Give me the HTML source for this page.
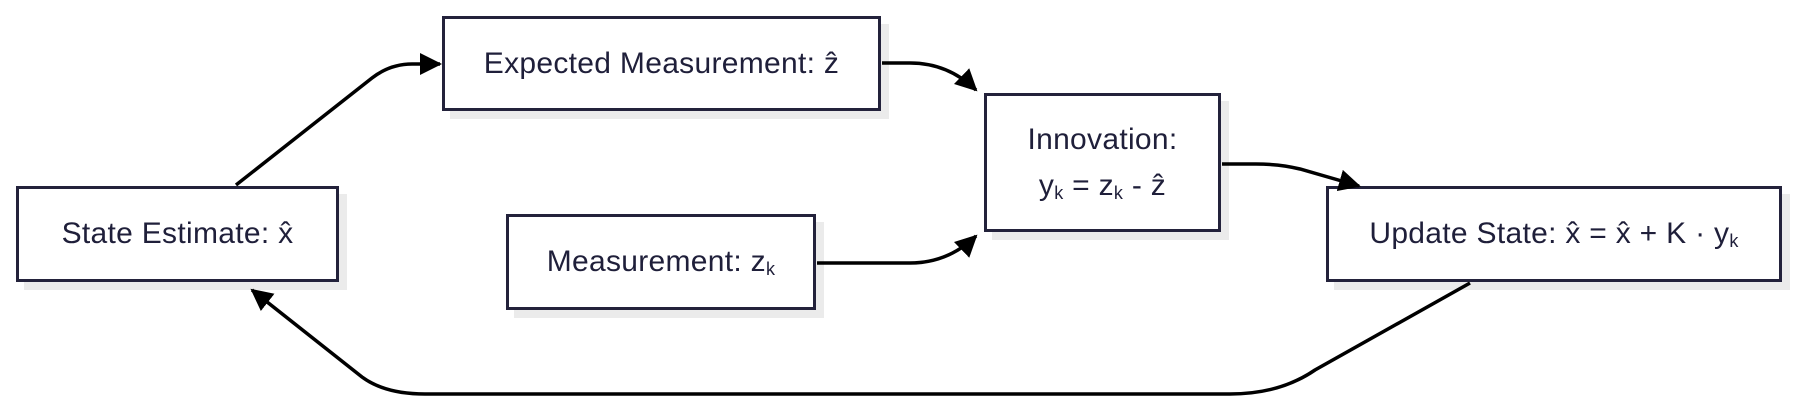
<!DOCTYPE html>
<html><head><meta charset="utf-8"><style>
html,body{margin:0;padding:0;background:#fff;width:1800px;height:411px;overflow:hidden}
.n{position:absolute;box-sizing:border-box;border:3px solid #23223b;background:#fff;box-shadow:8px 8px 0 #ebebeb;display:flex;align-items:center;justify-content:center;text-align:center;font-family:"Liberation Sans","DejaVu Sans",sans-serif;font-size:30px;letter-spacing:0.3px;color:#1f1f3a;line-height:46px}
.n span{display:block}
sub{font-size:18px;vertical-align:-4px;line-height:0}
svg{position:absolute;left:0;top:0;z-index:2}
</style></head><body>
<svg width="1800" height="411" viewBox="0 0 1800 411">
<defs>
<marker id="b" markerWidth="22" markerHeight="22" refX="20" refY="11" orient="auto" markerUnits="userSpaceOnUse" viewBox="0 0 22 22"><path d="M0,0 L22,11 L0,22 z" fill="#000"/></marker></defs>
<g fill="none" stroke="#000" stroke-width="3.5">
<path d="M236,185 L372,78 Q390,64 412,64 L440,64" marker-end="url(#b)"/>
<path d="M882,63 L910,63 Q948,63 976,90" marker-end="url(#b)"/>
<path d="M817,263 L910,263 Q948,263 976,236" marker-end="url(#b)"/>
<path d="M1222,164 L1256,164 Q1280,164 1300,169 L1359,186" marker-end="url(#b)"/>
<path d="M1470,283 L1315,370 Q1280,394 1230,394 L425,394 Q385,394 362,377 L252,290" marker-end="url(#b)"/>
</g></svg>
<div class="n" style="left:16px;top:186px;width:323px;height:96px"><span>State Estimate: x̂</span></div>
<div class="n" style="left:442px;top:16px;width:439px;height:95px"><span>Expected Measurement: ẑ</span></div>
<div class="n" style="left:506px;top:214px;width:310px;height:96px"><span>Measurement: z<sub>k</sub></span></div>
<div class="n" style="left:984px;top:93px;width:237px;height:139px"><span>Innovation:<br>y<sub>k</sub> = z<sub>k</sub> - ẑ</span></div>
<div class="n" style="left:1326px;top:186px;width:456px;height:96px"><span>Update State: x̂ = x̂ + K · y<sub>k</sub></span></div>
</body></html>
